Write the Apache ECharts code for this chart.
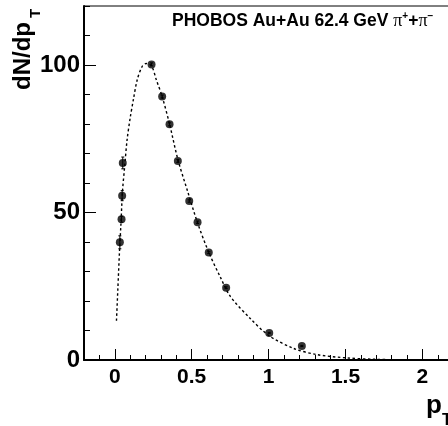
<!DOCTYPE html>
<html><head><meta charset="utf-8">
<script src="https://cdn.jsdelivr.net/npm/echarts@6/dist/echarts.min.js"></script>
<style>html,body{margin:0;padding:0;background:#fff}#c{width:448px;height:426px}</style>
</head><body><div id="c"></div>
<script>
// Data points (pT, dN/dpT) and their errors
const pointX = [0.033, 0.044, 0.048, 0.052, 0.239, 0.308, 0.356, 0.41, 0.484, 0.538, 0.611, 0.724, 1.004, 1.216];
const pointY = [39.9, 47.7, 55.7, 66.8, 100.2, 89.3, 79.9, 67.5, 53.9, 46.7, 36.4, 24.5, 9.15, 4.75];
const pointErr = [2.2, 1.0, 1.7, 2.0, 0.5, 0.5, 0.5, 0.5, 0.4, 0.4, 0.3, 0.3, 0.2, 0.2];
// Fit curve
const fitX = [0.011, 0.02, 0.03, 0.04, 0.05, 0.065, 0.08, 0.1, 0.12, 0.146, 0.178, 0.204, 0.239, 0.27, 0.308, 0.356, 0.41, 0.471, 0.538, 0.611, 0.687, 0.752, 0.882, 1.004, 1.164, 1.316, 1.511, 1.684, 1.85, 2.0];
const fitY = [13.3, 24, 36, 46, 57, 66, 74.6, 82, 88, 95, 99.5, 100.5, 99.7, 95, 89.3, 80, 68, 57.6, 46.5, 36.5, 28, 21.5, 14, 8.2, 3.9, 1.8, 0.7, 0.25, 0.08, 0.02];
// Tick labels
const xTickLabels = [0, 0.5, 1, 1.5, 2];
const yTickLabels = [0, 50, 100];
const titleText = 'PHOBOS Au+Au 62.4 GeV ';

const FONT = '"Liberation Sans", Arial, Helvetica, sans-serif';
const chart = echarts.init(document.getElementById('c'), null, {renderer: 'canvas'});

const baseX = {type: 'value', min: -0.2, max: 2.4, position: 'bottom', splitLine: {show: false}};
const baseY = {type: 'value', min: 0, max: 120, position: 'left', splitLine: {show: false}};

chart.setOption({
  animation: false,
  backgroundColor: '#fff',
  grid: {left: 84, top: 6, width: 400, height: 354, show: true, borderColor: '#000', borderWidth: 1, containLabel: false, outerBoundsMode: 'none'},
  xAxis: [
    Object.assign({}, baseX, {interval: 0.1,
      axisLine: {show: true, onZero: false, lineStyle: {color: '#000', width: 2}},
      axisTick: {show: true, inside: true, length: 5, lineStyle: {color: '#000', width: 1}},
      axisLabel: {show: false}}),
    Object.assign({}, baseX, {
      axisLine: {show: false, onZero: false},
      axisTick: {show: true, inside: true, length: 11, customValues: xTickLabels, lineStyle: {color: '#000', width: 1}},
      axisLabel: {show: true, customValues: xTickLabels, margin: 7, color: '#000', fontSize: 21, fontWeight: 'bold', fontFamily: FONT, formatter: v => String(v)}})
  ],
  yAxis: [
    Object.assign({}, baseY, {interval: 10,
      axisLine: {show: true, onZero: false, lineStyle: {color: '#000', width: 2}},
      axisTick: {show: true, inside: true, length: 6, lineStyle: {color: '#000', width: 1}},
      axisLabel: {show: false}}),
    Object.assign({}, baseY, {
      axisLine: {show: false, onZero: false},
      axisTick: {show: true, inside: true, length: 12, customValues: yTickLabels, lineStyle: {color: '#000', width: 1}},
      axisLabel: {show: true, customValues: yTickLabels, margin: 4, color: '#000', fontSize: 24, fontWeight: 'bold', fontFamily: FONT, formatter: v => String(v)}})
  ],
  series: [
    {type: 'line', xAxisIndex: 0, yAxisIndex: 0, data: fitX.map((x, i) => [x, fitY[i]]), showSymbol: false, smooth: 0.3,
     lineStyle: {color: '#000', width: 1.4, type: [2.5, 2.5]}, z: 2},
    {type: 'custom', xAxisIndex: 0, yAxisIndex: 0, data: pointX.map((x, i) => [x, pointY[i], pointErr[i]]),
     renderItem: (params, api) => {
       const x = api.value(0), y = api.value(1), e = api.value(2);
       const lo = api.coord([x, y - e]), hi = api.coord([x, y + e]);
       return {type: 'group', children: [
         {type: 'line', shape: {x1: lo[0], y1: lo[1], x2: hi[0], y2: hi[1]}, style: {stroke: '#000', lineWidth: 1}},
         {type: 'line', shape: {x1: lo[0] - 1.5, y1: lo[1], x2: lo[0] + 1.5, y2: lo[1]}, style: {stroke: '#000', lineWidth: 1}},
         {type: 'line', shape: {x1: hi[0] - 1.5, y1: hi[1], x2: hi[0] + 1.5, y2: hi[1]}, style: {stroke: '#000', lineWidth: 1}}
       ]};
     }, z: 3},
    {type: 'scatter', xAxisIndex: 0, yAxisIndex: 0, data: pointX.map((x, i) => [x, pointY[i]]), symbol: 'circle', symbolSize: 8,
     itemStyle: {color: '#000'}, z: 4}
  ],
  graphic: [
    {type: 'text', x: 172, y: 21, style: {
      text: '{a|' + titleText + '}{p|π}{s|+}{a|+}{p|π}{s|−}',
      verticalAlign: 'middle', align: 'left',
      rich: {
        a: {fontFamily: FONT, fontWeight: 'bold', fontSize: 17.5, fill: '#000'},
        p: {fontFamily: '"Liberation Serif", "DejaVu Serif", serif', fontSize: 18, fill: '#000'},
        s: {fontFamily: FONT, fontSize: 10, fontWeight: 'bold', fill: '#000', padding: [0, 0, 9, 0]}
      }}},
    {type: 'text', x: 23, y: 90, rotation: Math.PI / 2, style: {text: 'dN/dp', fontFamily: FONT, fontWeight: 'bold', fontSize: 24, fill: '#000', align: 'left', verticalAlign: 'middle'}},
    {type: 'text', x: 36, y: 18, rotation: Math.PI / 2, style: {text: 'T', fontFamily: FONT, fontWeight: 'bold', fontSize: 15, fill: '#000', align: 'left', verticalAlign: 'middle'}},
    {type: 'text', x: 426, y: 406, style: {text: 'p', fontFamily: FONT, fontWeight: 'bold', fontSize: 26, fill: '#000', align: 'left', verticalAlign: 'middle'}},
    {type: 'text', x: 442, y: 421, style: {text: 'T', fontFamily: FONT, fontWeight: 'bold', fontSize: 16, fill: '#000', align: 'left', verticalAlign: 'middle'}}
  ]
});
</script></body></html>
